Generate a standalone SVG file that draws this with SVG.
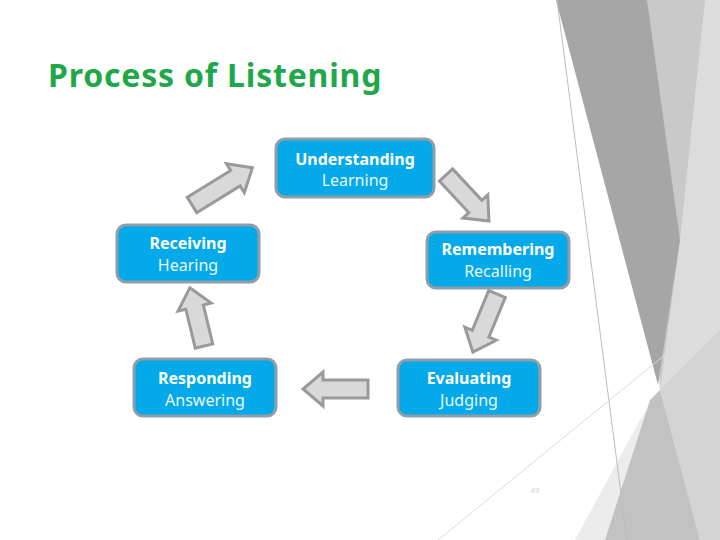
<svg xmlns="http://www.w3.org/2000/svg" width="720" height="540" viewBox="0 0 720 540">
<defs>
<style>
.box{fill:#03a9e8;stroke:#8f9ea9;stroke-width:3}
.t1{font-family:"Noto Sans","DejaVu Sans",sans-serif;font-weight:bold;font-size:16px;fill:#ffffff;text-anchor:middle}
.t2{font-family:"Noto Sans","DejaVu Sans",sans-serif;font-size:16px;fill:#eaf8ff;text-anchor:middle}
.arr{fill:#d9d9d9;stroke:#9a9a9a;stroke-width:3;stroke-linejoin:miter}
.title{font-family:"Noto Sans","DejaVu Sans",sans-serif;font-weight:bold;font-size:32px;letter-spacing:0.8px;fill:#1ea84a}
</style>
</defs>
<rect width="720" height="540" fill="#ffffff"/>
<g id="background">
<polygon points="575,540 640,420 700,330 720,300 720,540" fill="#ececec"/>
<polygon points="640,0 720,0 720,540 690,540 660,390" fill="#dcdcdc"/>
<polygon points="647,0 705,0 680,240 660,390" fill="#c9c9c9"/>
<polygon points="556,0 647,0 680,240 658,385" fill="#a6a6a6"/>
<polygon points="605,540 650,400 660,390 700,540" fill="#c2c2c2"/>
<polygon points="660,390 720,330 720,540 700,540" fill="#d4d4d4"/>
<line x1="557" y1="0" x2="627" y2="540" stroke="#bdbdbd" stroke-width="1"/>
<line x1="438" y1="540" x2="720" y2="310" stroke="#dcdcdc" stroke-width="1"/>
</g>
<text class="title" x="48" y="87">Process of Listening</text>
<g id="connectors">
<path class="arr" transform="translate(192,205) rotate(-31.7)" d="M0,-9 L51,-9 L51,-17 L71,0 L51,17 L51,9 L0,9 Z"/>
<path class="arr" transform="translate(446,175) rotate(47)" d="M0,-9 L43,-9 L43,-17 L63,0 L43,17 L43,9 L0,9 Z"/>
<path class="arr" transform="translate(497,294) rotate(112.5)" d="M0,-9 L43,-9 L43,-17 L63,0 L43,17 L43,9 L0,9 Z"/>
<path class="arr" transform="translate(368,389) rotate(180)" d="M0,-9 L45,-9 L45,-17 L65,0 L45,17 L45,9 L0,9 Z"/>
<path class="arr" transform="translate(204,346) rotate(-103.6)" d="M0,-9 L40,-9 L40,-17 L60,0 L40,17 L40,9 L0,9 Z"/>
</g>
<g id="understanding">
<rect class="box" x="276" y="139" width="158" height="58" rx="9"/>
<text class="t1" x="355" y="165">Understanding</text>
<text class="t2" x="355" y="186">Learning</text>
</g>
<g id="receiving">
<rect class="box" x="117" y="225" width="142" height="57" rx="9"/>
<text class="t1" x="188" y="249">Receiving</text>
<text class="t2" x="188" y="271">Hearing</text>
</g>
<g id="remembering">
<rect class="box" x="427" y="232" width="142" height="56" rx="9"/>
<text class="t1" x="498" y="255">Remembering</text>
<text class="t2" x="498" y="277">Recalling</text>
</g>
<g id="responding">
<rect class="box" x="134" y="359" width="142" height="57" rx="9"/>
<text class="t1" x="205" y="384">Responding</text>
<text class="t2" x="205" y="406">Answering</text>
</g>
<g id="evaluating">
<rect class="box" x="398" y="360" width="142" height="56" rx="9"/>
<text class="t1" x="469" y="384">Evaluating</text>
<text class="t2" x="469" y="406">Judging</text>
</g>
<text x="535" y="493" font-family="Liberation Sans, sans-serif" font-size="8" fill="#cfcfcf" text-anchor="middle">49</text>
</svg>
